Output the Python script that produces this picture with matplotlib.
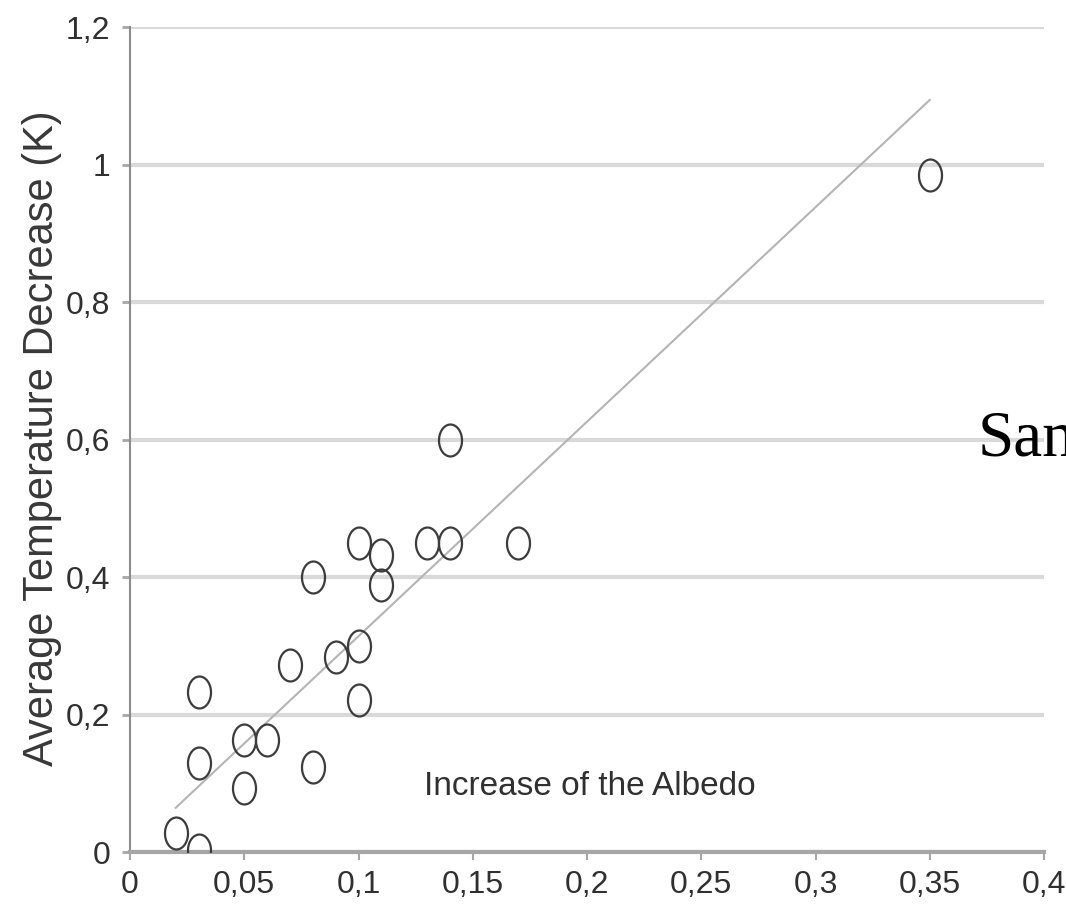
import numpy as np
import matplotlib.pyplot as plt
from matplotlib.path import Path

# albedo increase vs. temperature decrease
albedo = [0.02, 0.03, 0.03, 0.03, 0.05, 0.05, 0.06, 0.07, 0.08, 0.08, 0.09,
          0.10, 0.10, 0.10, 0.11, 0.11, 0.13, 0.14, 0.14, 0.17, 0.35]
temp_decrease = [0.028, 0.003, 0.13, 0.233, 0.163, 0.093, 0.163, 0.272, 0.124, 0.40, 0.284,
                 0.30, 0.221, 0.45, 0.432, 0.389, 0.45, 0.45, 0.60, 0.45, 0.985]

# trend line as drawn in the original chart
trend_slope = 3.12
trend_intercept = 0.002

xticks = [0, 0.05, 0.1, 0.15, 0.2, 0.25, 0.3, 0.35, 0.4]
xticklabels = ['0', '0,05', '0,1', '0,15', '0,2', '0,25', '0,3', '0,35', '0,4']
yticks = [0, 0.2, 0.4, 0.6, 0.8, 1.0, 1.2]
yticklabels = ['0', '0,2', '0,4', '0,6', '0,8', '1', '1,2']

sans = ['Liberation Sans', 'DejaVu Sans']

fig = plt.figure(figsize=(10.66, 9.10), dpi=100)
ax = fig.add_axes([0.1220, 0.0637, 0.8574, 0.9066])

# tall ellipse marker (the original picture is stretched vertically)
t = np.linspace(0, 2 * np.pi, 80)
ellipse = Path(np.column_stack([0.72 * np.cos(t), np.sin(t)]), closed=True)

x = np.array(albedo)
y = np.array(temp_decrease)
xl = np.array([x.min(), x.max()])
ax.plot(xl, trend_slope * xl + trend_intercept, color='#b4b4b4', lw=1.5, zorder=3)

ax.plot(x, y, linestyle='none', marker=ellipse, markersize=23,
        markerfacecolor='none', markeredgecolor='#3c3c3c', markeredgewidth=1.6, zorder=4)

ax.set_xlim(0, 0.4)
ax.set_ylim(0, 1.2)
ax.set_xticks(xticks)
ax.set_xticklabels(xticklabels, family=sans, fontsize=23, color='#303030')
ax.set_yticks(yticks)
ax.set_yticklabels(yticklabels, family=sans, fontsize=23, color='#303030')

ax.yaxis.grid(True, color='#d9d9d9', lw=3)
ax.set_axisbelow(True)
for s in ['top', 'right']:
    ax.spines[s].set_visible(False)
ax.spines['left'].set_color('#8c8c8c')
ax.spines['left'].set_linewidth(1.5)
ax.spines['bottom'].set_color('#a6a6a6')
ax.spines['bottom'].set_linewidth(3)
ax.tick_params(axis='x', length=6, width=1.5, color='#a6a6a6', pad=7)
ax.tick_params(axis='y', length=6, width=2, color='#a6a6a6', pad=8)

fig.text(42 / 1066, 1 - 438 / 910, 'Average Temperature Decrease (K)', rotation=90,
         ha='center', va='center', family=sans, fontsize=30, color='#383838')

ax.text(0.2013, 0.096, 'Increase of the Albedo', ha='center', va='center',
        family=sans, fontsize=24, color='#303030')

fig.text(978 / 1066, 1 - 455 / 910, 'San', ha='left', va='baseline',
         family=['Liberation Serif', 'DejaVu Serif'], fontsize=47, color='black')

fig.savefig('out.png', dpi=100)
